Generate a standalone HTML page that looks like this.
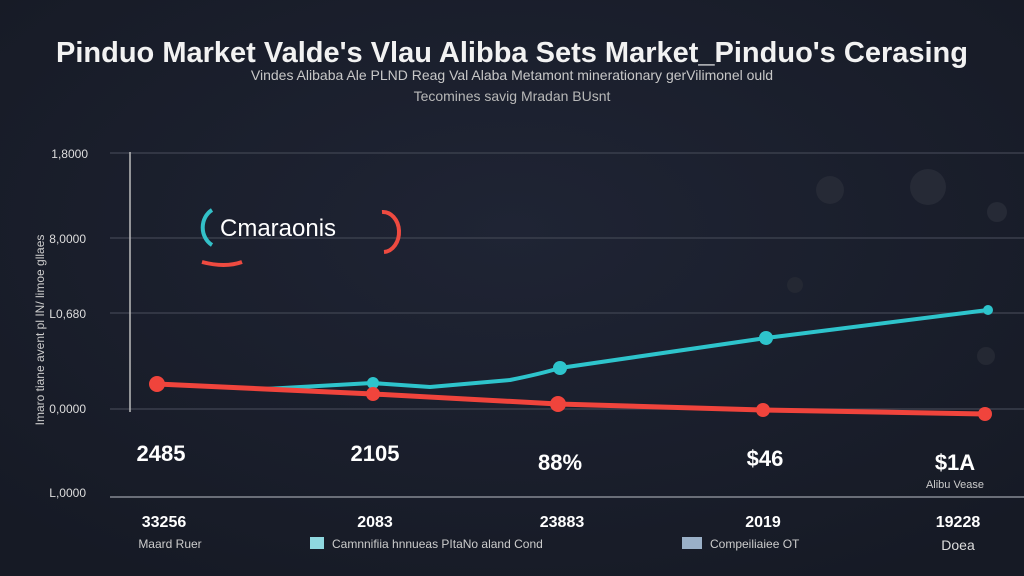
<!DOCTYPE html><html><head><style>
body{margin:0;width:1024px;height:576px;overflow:hidden;background:#1b1f2c;font-family:"Liberation Sans",sans-serif;color:#fff}
svg{position:absolute;left:0;top:0}
</style></head><body>
<svg width="1024" height="576" viewBox="0 0 1024 576">
<defs><radialGradient id="bg" cx="50%" cy="40%" r="70%"><stop offset="0" stop-color="#1f2434"/><stop offset="1" stop-color="#161a25"/></radialGradient></defs>
<rect width="1024" height="576" fill="url(#bg)"/>
<text x="512" y="62" text-anchor="middle" font-size="29" font-weight="bold" fill="#f2f2f2" font-family="Liberation Sans">Pinduo Market Valde's Vlau Alibba Sets Market_Pinduo's Cerasing</text>
<text x="512" y="80" text-anchor="middle" font-size="14" fill="#c8c8c8">Vindes Alibaba Ale PLND Reag Val Alaba Metamont minerationary gerVilimonel ould</text>
<text x="512" y="101" text-anchor="middle" font-size="14" fill="#b8b8b8">Tecomines savig Mradan BUsnt</text>
<g stroke="#3a3f4c" stroke-width="1.5">
<line x1="110" y1="153" x2="1024" y2="153"/><line x1="110" y1="238" x2="1024" y2="238"/>
<line x1="110" y1="313" x2="1024" y2="313"/><line x1="110" y1="409" x2="1024" y2="409"/>
</g>
<line x1="110" y1="497" x2="1024" y2="497" stroke="#6a6e78" stroke-width="2"/>
<line x1="130" y1="152" x2="130" y2="412" stroke="#bbb" stroke-width="1.5"/>
<g font-size="12" fill="#ddd" text-anchor="end">
<text x="88" y="158">1,8000</text><text x="86" y="243">8,0000</text><text x="86" y="318">L0,680</text><text x="86" y="413">0,0000</text><text x="86" y="497">L,0000</text></g>
<text transform="translate(44,330) rotate(-90)" text-anchor="middle" font-size="12" fill="#ccc">Imaro tiane avent pl IN/ limoe gllaes</text>
<circle cx="830" cy="190" r="14" fill="#262a36"/><circle cx="928" cy="187" r="18" fill="#262a36"/><circle cx="997" cy="212" r="10" fill="#262a36"/><circle cx="986" cy="356" r="9" fill="#242833"/><circle cx="795" cy="285" r="8" fill="#242833"/>
<path d="M212 210 A18 20 0 0 0 212 245" stroke="#33c0c8" stroke-width="4" fill="none"/>
<path d="M382 212 A16 20 0 0 1 384 252" stroke="#ee4a40" stroke-width="4" fill="none"/>
<path d="M242 262 Q225 268 202 262" stroke="#ee4a40" stroke-width="4" fill="none"/>
<text x="220" y="236" font-size="24" fill="#fff">Cmaraonis</text>
<path d="M265 389 L372 383 L430 387 L510 380 Q540 374 560 368 L766 338 L988 310" stroke="#2ec4cc" stroke-width="4" fill="none"/>
<path d="M157 384 L373 394 L558 404 L763 410 L985 414" stroke="#f0443c" stroke-width="5" fill="none"/>
<g fill="#2ec4cc"><circle cx="373" cy="383" r="6"/><circle cx="560" cy="368" r="7"/><circle cx="766" cy="338" r="7"/><circle cx="988" cy="310" r="5"/></g>
<g fill="#f0443c"><circle cx="157" cy="384" r="8"/><circle cx="373" cy="394" r="7"/><circle cx="558" cy="404" r="8"/><circle cx="763" cy="410" r="7"/><circle cx="985" cy="414" r="7"/></g>
<g font-size="22" font-weight="bold" fill="#fff" text-anchor="middle">
<text x="161" y="461">2485</text><text x="375" y="461">2105</text><text x="560" y="470">88%</text><text x="765" y="466">$46</text><text x="955" y="470">$1A</text></g>
<text x="955" y="488" font-size="11" fill="#ccc" text-anchor="middle">Alibu Vease</text>
<g font-size="16" font-weight="bold" fill="#fff" text-anchor="middle">
<text x="164" y="527">33256</text><text x="375" y="527">2083</text><text x="562" y="527">23883</text><text x="763" y="527">2019</text><text x="958" y="527">19228</text></g>
<text x="170" y="548" font-size="12" fill="#ccc" text-anchor="middle">Maard Ruer</text>
<rect x="310" y="537" width="14" height="12" fill="#8fd8e0"/>
<text x="332" y="548" font-size="12" fill="#ccc">Camnnifiia hnnueas PItaNo aland Cond</text>
<rect x="682" y="537" width="20" height="12" fill="#9ab0c8"/>
<text x="710" y="548" font-size="12" fill="#ccc">Compeiliaiee OT</text>
<text x="958" y="550" font-size="14" fill="#ddd" text-anchor="middle">Doea</text>
</svg>
</body></html>
